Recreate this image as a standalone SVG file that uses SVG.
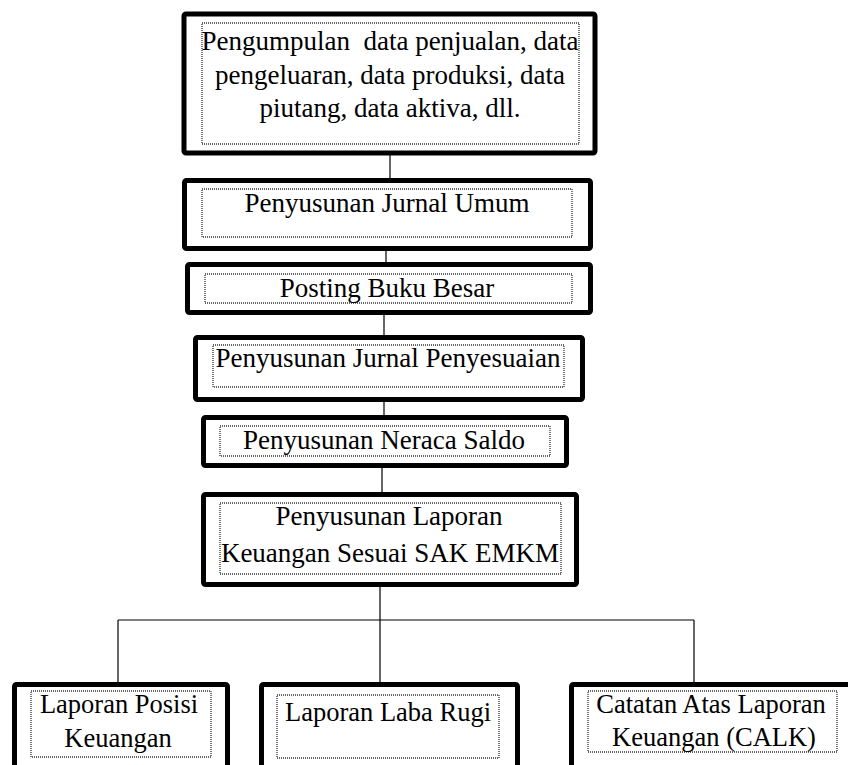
<svg xmlns="http://www.w3.org/2000/svg" width="848" height="765" viewBox="0 0 848 765">
<style>
.box{fill:#fff;stroke:#000;stroke-width:5;}
.inner{fill:none;stroke:#333;stroke-width:1.3;stroke-dasharray:1 1;}
.t{font-family:"Liberation Serif","Times New Roman",serif;font-size:27px;fill:#000;text-anchor:middle;}
.tb{font-family:"Liberation Serif","Times New Roman",serif;font-size:26.5px;fill:#000;text-anchor:middle;}
.c{stroke:#000;stroke-width:1.2;fill:none;}
</style>
<rect width="848" height="765" fill="#fff"/>
<g id="connectors">
<line class="c" x1="390" y1="155" x2="390" y2="178"/>
<line class="c" x1="386" y1="251" x2="386" y2="262"/>
<line class="c" x1="384" y1="315" x2="384" y2="335"/>
<line class="c" x1="384" y1="402" x2="384" y2="415"/>
<line class="c" x1="382" y1="468" x2="382" y2="492"/>
<line class="c" x1="380" y1="587" x2="380" y2="682"/>
<line class="c" x1="118" y1="620" x2="694" y2="620"/>
<line class="c" x1="118" y1="620" x2="118" y2="684"/>
<line class="c" x1="694" y1="620" x2="694" y2="682"/>
</g>
<g id="n1">
<rect class="box" x="184" y="14" width="411" height="139" rx="2"/>
<rect class="inner" x="202" y="23" width="377" height="121"/>
<text class="t" x="390" y="50">Pengumpulan&#160; data penjualan, data</text>
<text class="t" x="390" y="84">pengeluaran, data produksi, data</text>
<text class="t" x="390" y="117">piutang, data aktiva, dll.</text>
</g>
<g id="n2">
<rect class="box" x="184.5" y="180.5" width="406" height="68" rx="2"/>
<rect class="inner" x="202" y="189" width="370" height="48"/>
<text class="t" x="387" y="212">Penyusunan Jurnal Umum</text>
</g>
<g id="n3">
<rect class="box" x="187.5" y="264.5" width="403" height="48" rx="2"/>
<rect class="inner" x="205" y="274" width="367" height="29"/>
<text class="t" x="387" y="297">Posting Buku Besar</text>
</g>
<g id="n4">
<rect class="box" x="195.5" y="337.5" width="387" height="62" rx="2"/>
<rect class="inner" x="213" y="345" width="351" height="42"/>
<text class="t" x="388" y="367">Penyusunan Jurnal Penyesuaian</text>
</g>
<g id="n5">
<rect class="box" x="203.5" y="417.5" width="363" height="48" rx="2"/>
<rect class="inner" x="220" y="426" width="330" height="30"/>
<text class="t" x="384" y="449">Penyusunan Neraca Saldo</text>
</g>
<g id="n6">
<rect class="box" x="203.5" y="494.5" width="373" height="90" rx="2"/>
<rect class="inner" x="220" y="503" width="341" height="71"/>
<text class="t" x="389" y="525">Penyusunan Laporan</text>
<text class="t" x="390" y="562">Keuangan Sesuai SAK EMKM</text>
</g>
<g id="n7">
<rect class="box" x="14.5" y="684.5" width="213" height="100" rx="2"/>
<rect class="inner" x="31" y="691" width="180" height="66"/>
<text class="tb" x="119" y="713">Laporan Posisi</text>
<text class="tb" x="118" y="747">Keuangan</text>
</g>
<g id="n8">
<rect class="box" x="261.5" y="684.5" width="256" height="100" rx="2"/>
<rect class="inner" x="277" y="695" width="222" height="63"/>
<text class="tb" x="388" y="721">Laporan Laba Rugi</text>
</g>
<g id="n9">
<rect class="box" x="571.5" y="684.5" width="300" height="100" rx="2"/>
<rect class="inner" x="588" y="691" width="249" height="61"/>
<text class="tb" x="711" y="713">Catatan Atas Laporan</text>
<text class="tb" x="714" y="746">Keuangan (CALK)</text>
</g>
</svg>
